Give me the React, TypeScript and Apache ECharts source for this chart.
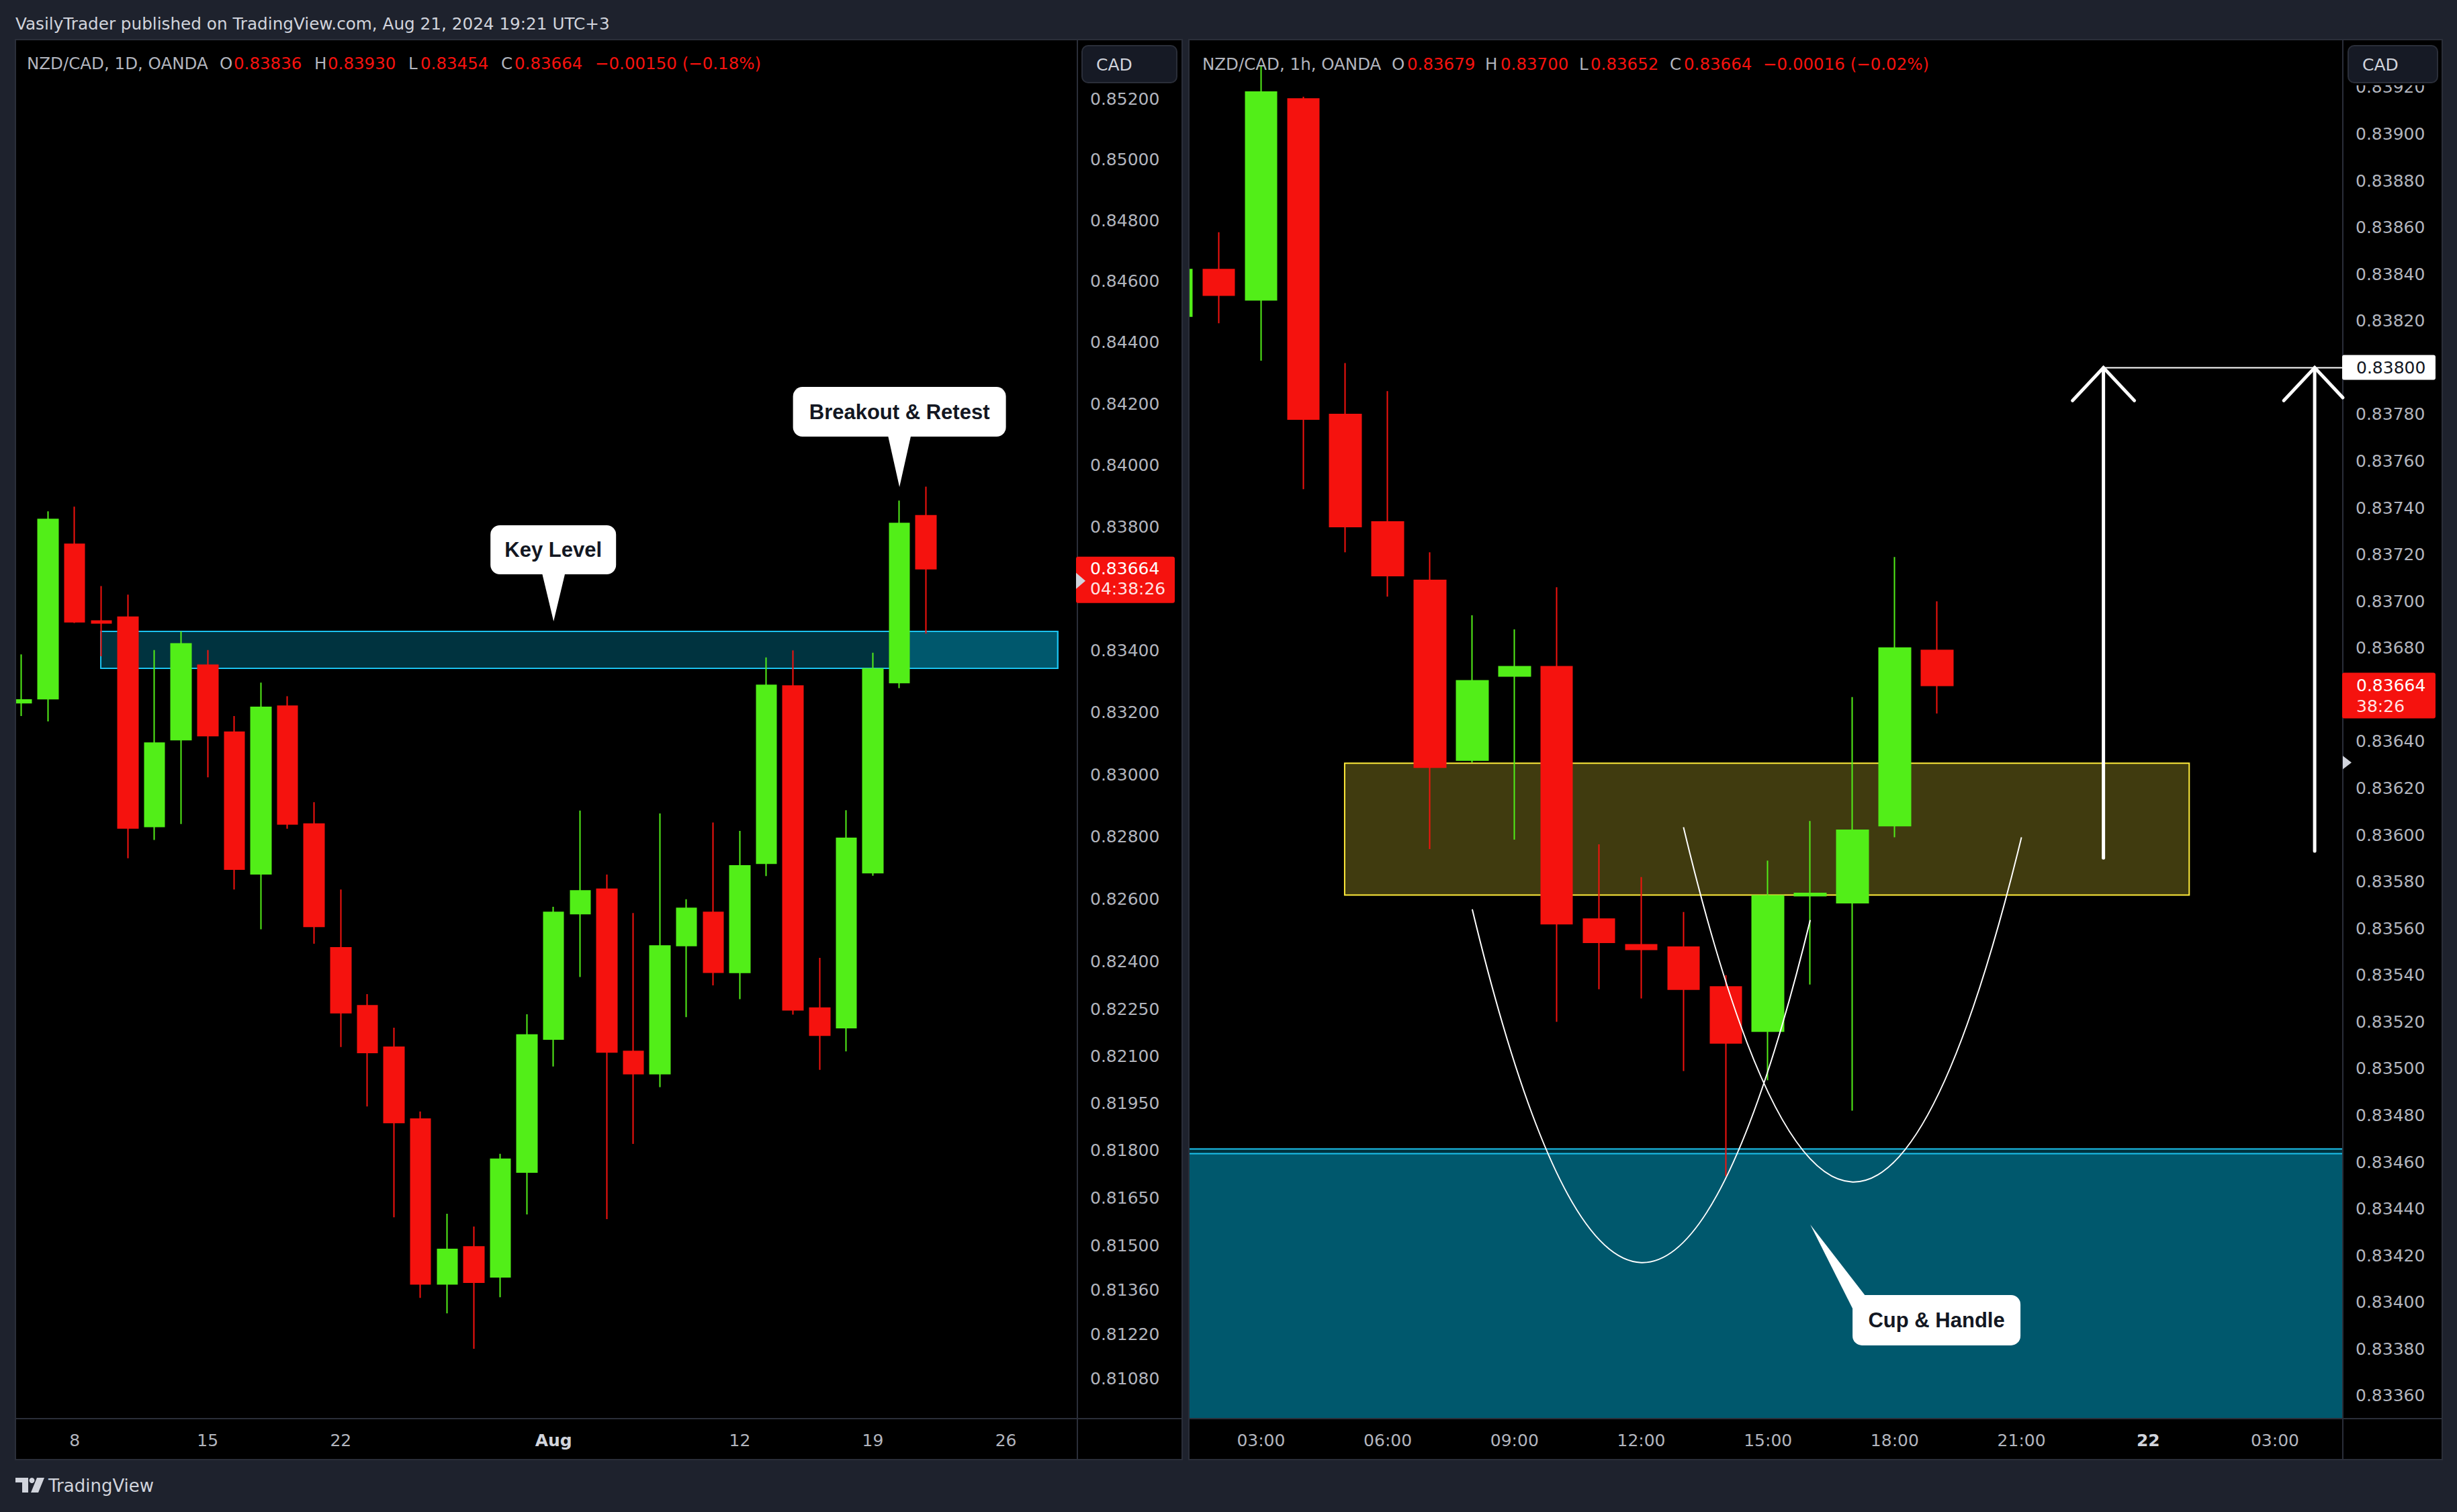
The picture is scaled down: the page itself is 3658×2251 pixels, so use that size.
import { useEffect, useRef } from 'react';
import * as echarts from 'echarts';

// ---------------- NZD/CAD 1D (left panel) ----------------
const dailyDates = ['2024-07-04','2024-07-05','2024-07-08','2024-07-09','2024-07-10','2024-07-11','2024-07-12','2024-07-15','2024-07-16','2024-07-17','2024-07-18','2024-07-19','2024-07-22','2024-07-23','2024-07-24','2024-07-25','2024-07-26','2024-07-29','2024-07-30','2024-07-31','2024-08-01','2024-08-02','2024-08-05','2024-08-06','2024-08-07','2024-08-08','2024-08-09','2024-08-12','2024-08-13','2024-08-14','2024-08-15','2024-08-16','2024-08-19','2024-08-20','2024-08-21'];
const dailyOpen = [0.83231,0.83244,0.83743,0.83495,0.83507,0.82833,0.83112,0.83352,0.83136,0.82681,0.83220,0.82841,0.82445,0.82260,0.82128,0.81900,0.81379,0.81496,0.81401,0.81732,0.82154,0.82554,0.82632,0.82115,0.82044,0.82452,0.82558,0.82366,0.82715,0.83285,0.82253,0.82190,0.82685,0.83296,0.83836];
const dailyClose = [0.83240,0.83824,0.83492,0.83488,0.82828,0.83101,0.83421,0.83125,0.82696,0.83216,0.82841,0.82513,0.82238,0.82111,0.81889,0.81379,0.81488,0.81384,0.81773,0.82167,0.82558,0.82627,0.82113,0.82044,0.82451,0.82571,0.82367,0.82707,0.83287,0.82247,0.82166,0.82795,0.83340,0.83811,0.83664];
const dailyLow = [0.83188,0.83171,0.83488,0.83381,0.82731,0.82790,0.82841,0.82991,0.82631,0.82504,0.82826,0.82458,0.82129,0.81940,0.81589,0.81335,0.81286,0.81175,0.81337,0.81598,0.82067,0.82352,0.81583,0.81821,0.82001,0.82224,0.82325,0.82281,0.82674,0.82232,0.82056,0.82115,0.82675,0.83278,0.83454];
const dailyHigh = [0.83387,0.83850,0.83865,0.83608,0.83580,0.83401,0.83461,0.83401,0.83188,0.83296,0.83252,0.82911,0.82631,0.82297,0.82190,0.81924,0.81600,0.81560,0.81790,0.82233,0.82576,0.82884,0.82679,0.82556,0.82875,0.82600,0.82846,0.82819,0.83377,0.83400,0.82413,0.82885,0.83392,0.83885,0.83930];

const dailyTickIndex = [2, 7, 12, 20, 27, 32, 37];
const dailyTickLabel = ['8', '15', '22', 'Aug', '12', '19', '26'];
const dailyBoldTicks = ['Aug'];
const dailyPriceTicks = [0.852,0.850,0.848,0.846,0.844,0.842,0.840,0.838,0.834,0.832,0.830,0.828,0.826,0.824,0.8225,0.821,0.8195,0.818,0.8165,0.815,0.8136,0.8122,0.8108];

// key level zones (index range, price range)
const keyZoneA = { from: 2.98, to: 38.95, low: 0.83342, high: 0.83461 };
const keyZoneB = { from: 33.3, to: 38.95, low: 0.83342, high: 0.83461 };
const keyLevelTip = [20, 0.834937];
const breakoutTip = [33, 0.83929];

// ---------------- NZD/CAD 1h (right panel) ----------------
const hourlyHour = [1,2,3,4,5,6,7,8,9,10,11,12,13,14,15,16,17,18,19];
const hourlyOpen = [0.83822,0.83842,0.83829,0.83915,0.83780,0.83734,0.83709,0.83632,0.83668,0.83672,0.83564,0.83553,0.83552,0.83535,0.83516,0.83574,0.83571,0.83604,0.83679];
const hourlyClose = [0.83842,0.83831,0.83918,0.83778,0.83732,0.83711,0.83629,0.83666,0.83672,0.83562,0.83554,0.83551,0.83534,0.83511,0.83574,0.83575,0.83602,0.83680,0.83664];
const hourlyLow = [0.83810,0.83819,0.83803,0.83748,0.83721,0.83702,0.83594,0.83631,0.83598,0.83520,0.83534,0.83530,0.83499,0.83454,0.83495,0.83536,0.83482,0.83599,0.83652];
const hourlyHigh = [0.83852,0.83858,0.83929,0.83916,0.83802,0.83790,0.83721,0.83694,0.83688,0.83706,0.83596,0.83582,0.83567,0.83540,0.83589,0.83606,0.83659,0.83719,0.83700];

const hourlyTickHour = [3, 6, 9, 12, 15, 18, 21, 24, 27];
const hourlyTickLabel = ['03:00','06:00','09:00','12:00','15:00','18:00','21:00','22','03:00'];
const hourlyBoldTicks = ['22'];
const hourlyPriceTicks = [0.8392,0.8390,0.8388,0.8386,0.8384,0.8382,0.8378,0.8376,0.8374,0.8372,0.8370,0.8368,0.8364,0.8362,0.8360,0.8358,0.8356,0.8354,0.8352,0.8350,0.8348,0.8346,0.8344,0.8342,0.8340,0.8338,0.8336];

const yellowZone = { from: 4.98, to: 24.97, low: 0.835743, high: 0.836307 };
const tealTops = [0.834656, 0.834636];
const cupArc = [[8, 0.835682], [12, 0.83417], [16, 0.835636]];
const handleArc = [[13, 0.836033], [17, 0.834515], [21, 0.83599]];
const arrowXs = [22.94, 27.94];
const arrowBase = [0.835902, 0.835931];
const targetPrice = 0.838;
const cupTip = [16, 0.834333];
const markerPrice = 0.83631;

// ---------------- view / style ----------------
const W = 3658, H = 2251;
const LX = { min: -0.2272, max: 39.687 };
const LY = { min: 0.809555, max: 0.853955 };
const RX = { min: 1.2925, max: 28.606 };
const RY = { min: 0.833502, max: 0.839404 };
const UP = '#52ee18';
const DOWN = '#f5120e';
const BG = '#1e222d';
const LINE = '#2a2e39';
const TXT = '#d1d4dc';
const AXT = '#b2b5be';
const MONO = 'DejaVu Sans';
const BOLD = 'Liberation Sans';
const ZONE_FILL = 'rgba(0,190,232,0.27)';
const ZONE_LINE = '#1cc2ee';
const RIGHT_EDGE = 3488;

function axisLabelX(ticks: number[], labels: string[], bold: string[]) {
  return {
    customValues: ticks,
    color: AXT,
    fontFamily: MONO,
    fontSize: 25,
    margin: 20,
    formatter: (v: number) => {
      const i = ticks.findIndex((t) => Math.abs(t - v) < 1e-6);
      const s = i >= 0 ? labels[i] : '';
      return bold.includes(s) ? '{b|' + s + '}' : s;
    },
    rich: { b: { fontWeight: 'bold', color: TXT, fontFamily: MONO, fontSize: 25 } },
  };
}

function axisLabelY(ticks: number[]) {
  return {
    customValues: ticks,
    color: AXT,
    fontFamily: MONO,
    fontSize: 25,
    margin: 19,
    formatter: (v: number) => v.toFixed(5),
  };
}

export default function App() {
  const ref = useRef<HTMLDivElement>(null);

  useEffect(() => {
    const el = ref.current;
    if (!el) return;
    const chart = echarts.init(el, null, { renderer: 'svg', width: W, height: H });

    const candleStyle = {
      color: UP, color0: DOWN, borderColor: UP, borderColor0: DOWN, borderWidth: 2,
    };

    const option: any = {
      animation: false,
      backgroundColor: BG,
      grid: [
        { left: 23, top: 59, width: 1581, height: 2053 },
        { left: 1770, top: 59, width: 1718, height: 2053 },
      ],
      xAxis: [
        { type: 'value', gridIndex: 0, min: LX.min, max: LX.max, axisLine: { show: false }, axisTick: { show: false }, splitLine: { show: false }, axisLabel: axisLabelX(dailyTickIndex, dailyTickLabel, dailyBoldTicks) },
        { type: 'value', gridIndex: 1, min: RX.min, max: RX.max, axisLine: { show: false }, axisTick: { show: false }, splitLine: { show: false }, axisLabel: axisLabelX(hourlyTickHour, hourlyTickLabel, hourlyBoldTicks) },
      ],
      yAxis: [
        { type: 'log', logBase: 10, gridIndex: 0, position: 'right', min: LY.min, max: LY.max, axisLine: { show: false }, axisTick: { show: false }, splitLine: { show: false }, axisLabel: axisLabelY(dailyPriceTicks) },
        { type: 'value', gridIndex: 1, position: 'right', min: RY.min, max: RY.max, scale: true, axisLine: { show: false }, axisTick: { show: false }, splitLine: { show: false }, axisLabel: axisLabelY(hourlyPriceTicks) },
      ],
      series: [
        {
          type: 'candlestick',
          xAxisIndex: 0, yAxisIndex: 0,
          barWidth: 30,
          clip: true,
          encode: { x: 0, y: [1, 2, 3, 4] },
          data: dailyDates.map((_, i) => [i, dailyOpen[i], dailyClose[i], dailyLow[i], dailyHigh[i]]),
          itemStyle: candleStyle,
          markArea: {
            silent: true,
            label: { show: false },
            data: [keyZoneA, keyZoneB].map((z) => [
              { xAxis: z.from, yAxis: z.high, itemStyle: { color: ZONE_FILL, borderColor: ZONE_LINE, borderWidth: 2 } },
              { xAxis: z.to, yAxis: z.low },
            ]),
          },
        },
        {
          type: 'candlestick',
          xAxisIndex: 1, yAxisIndex: 1,
          barWidth: 47,
          clip: true,
          encode: { x: 0, y: [1, 2, 3, 4] },
          data: hourlyHour.map((h, i) => [h, hourlyOpen[i], hourlyClose[i], hourlyLow[i], hourlyHigh[i]]),
          itemStyle: candleStyle,
          markArea: {
            silent: true,
            label: { show: false },
            data: [
              [
                { xAxis: yellowZone.from, yAxis: yellowZone.high, itemStyle: { color: 'rgba(255,235,59,0.25)', borderColor: '#ffeb3b', borderWidth: 2 } },
                { xAxis: yellowZone.to, yAxis: yellowZone.low },
              ],
              ...tealTops.map((top) => [
                { xAxis: RX.min - 1, yAxis: top, itemStyle: { color: ZONE_FILL, borderColor: ZONE_LINE, borderWidth: 2 } },
                { xAxis: RX.max + 1, yAxis: RY.min - 0.0002 },
              ]),
            ],
          },
        },
      ],
    };
    chart.setOption(option);

    const px = (g: number, x: number, y: number): number[] =>
      chart.convertToPixel({ xAxisIndex: g, yAxisIndex: g } as any, [x, y]) as number[];

    const els: any[] = [];
    const text = (t: string, x: number, y: number, fill: string, size: number, extra: any = {}) =>
      els.push({ type: 'text', x, y, z: extra.z ?? 40, silent: true, style: { text: t, fill, fontSize: size, fontFamily: extra.family ?? MONO, fontWeight: extra.weight ?? 'normal', align: extra.align ?? 'left', verticalAlign: 'middle' } });
    const rect = (x: number, y: number, w: number, h: number, fill: string, z: number, extra: any = {}) =>
      els.push({ type: 'rect', z, silent: true, shape: { x, y, width: w, height: h, r: extra.r ?? 0 }, style: { fill, stroke: extra.stroke ?? null, lineWidth: extra.lineWidth ?? 0 } });
    const line = (x1: number, y1: number, x2: number, y2: number, stroke: string, lw: number, z: number) =>
      els.push({ type: 'line', z, silent: true, shape: { x1, y1, x2, y2 }, style: { stroke, lineWidth: lw } });

    // panels
    rect(23, 59, 1737, 2114, '#000', -10, { stroke: LINE, lineWidth: 2 });
    rect(1770, 59, 1866, 2114, '#000', -10, { stroke: LINE, lineWidth: 2 });

    // masks for candles that spill past the plot edges
    rect(0, 59, 22, 2114, BG, 20);
    const spillTop = px(1, hourlyHour[0], hourlyHigh[0])[1] - 4;
    const spillBot = px(1, hourlyHour[0], hourlyLow[0])[1] + 4;
    rect(1726.5, spillTop, 32.5, spillBot - spillTop, '#000', 20);
    rect(1761, 59, 8, 2114, BG, 20);
    rect(3490, 61, 144, 66, '#000', 49);

    // panel borders and separators
    const seps = [
      [23, 59, 23, 2173], [1760, 59, 1760, 2173], [1770, 59, 1770, 2173],
      [1604, 59, 1604, 2173], [23, 2112, 1760, 2112], [3488, 59, 3488, 2173], [1770, 2112, 3636, 2112],
    ];
    seps.forEach(([x1, y1, x2, y2]) => line(x1, y1, x2, y2, LINE, 2, 21));

    // top line
    text('VasilyTrader published on TradingView.com, Aug 21, 2024 19:21 UTC+3', 23, 35, TXT, 24.7);

    // legends
    const legL: [string, number, string][] = [
      ['NZD/CAD, 1D, OANDA', 40, AXT], ['O', 327, AXT], ['0.83836', 348, DOWN], ['H', 468, AXT], ['0.83930', 488, DOWN],
      ['L', 608, AXT], ['0.83454', 626, DOWN], ['C', 746, AXT], ['0.83664', 766, DOWN], ['\u22120.00150 (\u22120.18%)', 886, DOWN],
    ];
    legL.forEach(([t, x, c]) => text(t, x, 94, c, 24.5));
    const legR: [string, number, string][] = [
      ['NZD/CAD, 1h, OANDA', 1790, AXT], ['O', 2072, AXT], ['0.83679', 2095, DOWN], ['H', 2211, AXT], ['0.83700', 2234, DOWN],
      ['L', 2351, AXT], ['0.83652', 2368, DOWN], ['C', 2486, AXT], ['0.83664', 2507, DOWN], ['\u22120.00016 (\u22120.02%)', 2625, DOWN],
    ];
    legR.forEach(([t, x, c]) => text(t, x, 95, c, 24.5));

    // CAD buttons
    [[1611, 141], [3496, 133]].forEach(([x, w]) => {
      rect(x, 68, w, 55, '#161a25', 50, { r: 9, stroke: LINE, lineWidth: 2 });
      text('CAD', x + 21, 96, TXT, 25, { z: 51 });
    });

    // TradingView logo
    rect(23, 2200, 19, 7, TXT, 40);
    rect(33, 2200, 9, 22, TXT, 40);
    els.push({ type: 'circle', z: 40, silent: true, shape: { cx: 47.5, cy: 2204, r: 4 }, style: { fill: TXT } });
    els.push({ type: 'polygon', z: 40, silent: true, shape: { points: [[55, 2200], [66, 2200], [57, 2222], [46, 2222]] }, style: { fill: TXT } });
    text('TradingView', 72, 2212, TXT, 26);

    // left last price label
    const lastD = dailyClose[dailyClose.length - 1];
    const pyL = px(0, 0, lastD)[1];
    rect(1602, pyL - 18, 147, 69, DOWN, 50, { r: 3 });
    text(lastD.toFixed(5), 1623, pyL, '#ffffff', 25, { z: 51 });
    text('04:38:26', 1623, pyL + 30, '#ffe3e3', 25, { z: 51 });
    els.push({ type: 'polygon', z: 52, silent: true, shape: { points: [[1602, pyL + 6], [1616, pyL + 18], [1602, pyL + 30]] }, style: { fill: TXT } });

    // right last price label
    const lastH = hourlyClose[hourlyClose.length - 1];
    const pyR = px(1, 0, lastH)[1];
    rect(3487, pyR - 19, 139, 68, DOWN, 50, { r: 3 });
    text(lastH.toFixed(5), 3508, pyR, '#ffffff', 25, { z: 51 });
    text('38:26', 3508, pyR + 31, '#ffe3e3', 25, { z: 51 });
    const pyM = px(1, 0, markerPrice)[1];
    els.push({ type: 'polygon', z: 52, silent: true, shape: { points: [[3488, pyM - 10], [3501, pyM], [3488, pyM + 10]] }, style: { fill: TXT } });

    // target line + label
    const pyT = px(1, 0, targetPrice)[1];
    const a1x = px(1, arrowXs[0], targetPrice)[0];
    line(a1x, pyT, RIGHT_EDGE, pyT, '#ffffff', 2, 30);
    rect(3487, pyT - 19, 139, 37, '#ffffff', 50, { r: 3 });
    text(targetPrice.toFixed(5), 3508, pyT, '#131722', 25, { z: 51 });

    // arrows (wings clipped at the plot's right edge)
    arrowXs.forEach((ax, i) => {
      const tip = px(1, ax, targetPrice);
      const base = px(1, ax, arrowBase[i]);
      const st = { stroke: '#ffffff', lineWidth: 5, lineCap: 'round' };
      els.push({ type: 'line', z: 30, silent: true, shape: { x1: tip[0], y1: tip[1], x2: base[0], y2: base[1] }, style: st });
      let rx = tip[0] + 46, ry = tip[1] + 49;
      if (rx > RIGHT_EDGE) {
        const t = (RIGHT_EDGE - tip[0]) / 46;
        rx = RIGHT_EDGE; ry = tip[1] + 49 * t;
      }
      els.push({ type: 'polyline', z: 30, silent: true, shape: { points: [[tip[0] - 46, tip[1] + 49], [tip[0], tip[1]], [rx, ry]] }, style: { ...st, fill: null } });
    });

    // cup & handle arcs (quadratic curves through start / bottom / end)
    [cupArc, handleArc].forEach((arc) => {
      const p0 = px(1, arc[0][0], arc[0][1]);
      const pb = px(1, arc[1][0], arc[1][1]);
      const p2 = px(1, arc[2][0], arc[2][1]);
      const cx = 2 * pb[0] - (p0[0] + p2[0]) / 2;
      const cy = 2 * pb[1] - (p0[1] + p2[1]) / 2;
      els.push({ type: 'bezierCurve', z: 30, silent: true, shape: { x1: p0[0], y1: p0[1], x2: p2[0], y2: p2[1], cpx1: cx, cpy1: cy }, style: { stroke: '#ffffff', lineWidth: 2, fill: null } });
    });

    // callouts
    const callout = (tip: number[], bx: number, by: number, bw: number, bh: number, ptr: number[][], label: string) => {
      els.push({ type: 'polygon', z: 45, silent: true, shape: { points: [[tip[0], tip[1]], ...ptr.map((p) => [tip[0] + p[0], tip[1] + p[1]])] }, style: { fill: '#ffffff' } });
      rect(tip[0] + bx, tip[1] + by, bw, bh, '#ffffff', 45, { r: 14 });
      text(label, tip[0] + bx + bw / 2, tip[1] + by + bh / 2, '#131722', 31, { z: 46, family: BOLD, weight: 'bold', align: 'center' });
    };
    callout(px(0, keyLevelTip[0], keyLevelTip[1]), -94, -143, 187, 73, [[17, -71], [-17, -71]], 'Key Level');
    callout(px(0, breakoutTip[0], breakoutTip[1]), -158.5, -149, 317, 74, [[17, -76], [-17, -76]], 'Breakout & Retest');
    callout(px(1, cupTip[0], cupTip[1]), 63, 105, 250, 75, [[82, 106], [63, 125]], 'Cup & Handle');

    chart.setOption({ graphic: { elements: els } });

    return () => chart.dispose();
  }, []);

  return <div ref={ref} style={{ position: 'fixed', left: 0, top: 0, width: W, height: H }} />;
}
